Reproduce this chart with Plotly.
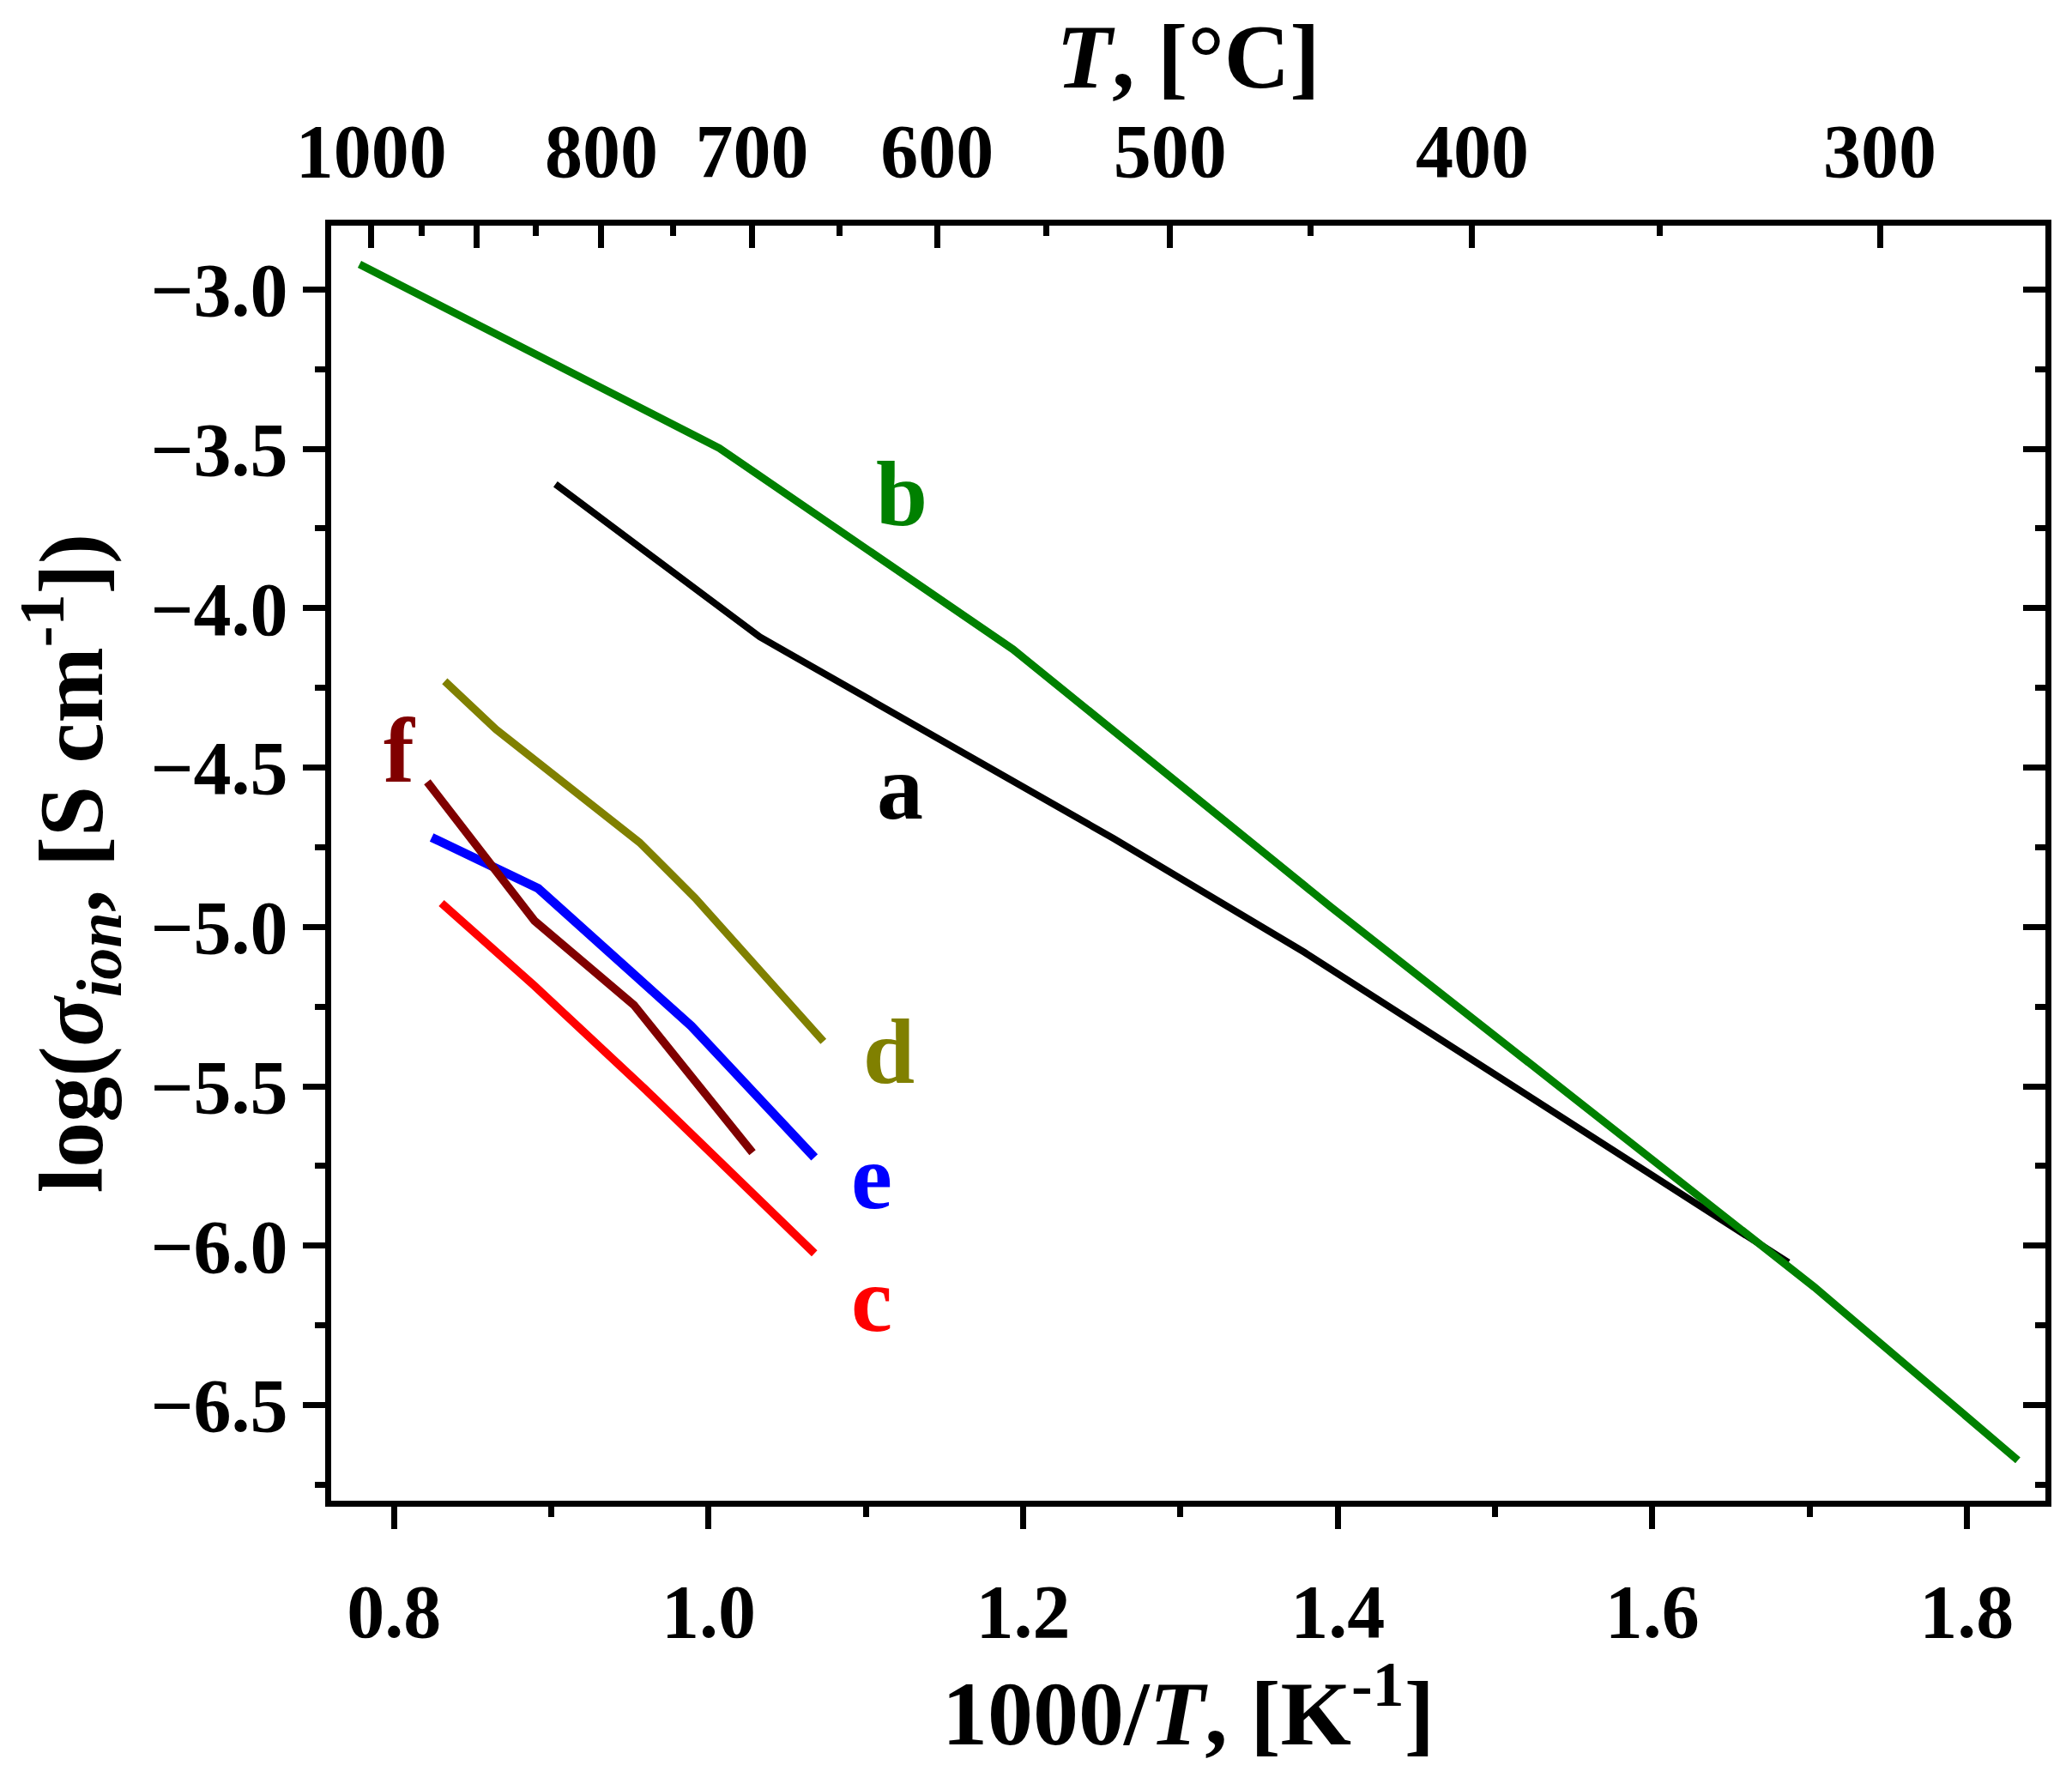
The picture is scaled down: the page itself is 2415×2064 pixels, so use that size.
"""log(sigma_ion) vs 1000/T — Arrhenius plot, curves a-f."""

import plotly.graph_objects as go

# --- data (x = 1000/T in K^-1, y = log sigma) ---
a_x = [0.9026, 1.0325, 1.2573, 1.3790, 1.6866]
a_y = [-3.611, -4.090, -4.722, -5.080, -6.053]

b_x = [0.778, 1.0068, 1.1935, 1.3956, 1.7031, 1.8325]
b_y = [-2.921, -3.498, -4.129, -4.937, -6.130, -6.673]

c_x = [0.8301, 0.8893, 0.9598, 1.0673]
c_y = [-4.925, -5.185, -5.510, -6.024]

d_x = [0.8322, 0.8648, 0.9561, 0.9914, 1.0730]
d_y = [-4.229, -4.380, -4.735, -4.909, -5.359]

e_x = [0.8239, 0.8916, 0.9525, 0.9890, 1.0673]
e_y = [-4.719, -4.879, -5.149, -5.311, -5.723]

f_x = [0.8211, 0.8893, 0.9525, 1.0279]
f_y = [-4.545, -4.981, -5.245, -5.708]

# top axis: temperature in deg C
top_temps = [1000, 900, 800, 700, 600, 500, 400, 300]
top_labels = ["1000", "", "800", "700", "600", "500", "400", "300"]
top_minor_temps = [950, 850, 750, 650, 550, 450, 350]

FONT = "Liberation Serif"


def inv_t(t_c):
    return 1000.0 / (t_c + 273.15)


# name, x, y, colour, line width
series = [
    ("a", a_x, a_y, "#000000", 8),
    ("b", b_x, b_y, "#008000", 9),
    ("c", c_x, c_y, "#FF0000", 9.5),
    ("d", d_x, d_y, "#808000", 9),
    ("e", e_x, e_y, "#0000FF", 10.5),
    ("f", f_x, f_y, "#800000", 9.5),
]

# where the curve letters sit (data coords)
label_pos = {
    "a": (1.1216, -4.563),
    "b": (1.1230, -3.640),
    "c": (1.1036, -6.170),
    "d": (1.1145, -5.392),
    "e": (1.1039, -5.785),
    "f": (0.8036, -4.445),
}

fig = go.Figure()
for name, xs, ys, col, lw in series:
    fig.add_trace(go.Scatter(x=xs, y=ys, mode="lines", name=name,
                             line=dict(color=col, width=lw), showlegend=False))
    lx, ly = label_pos[name]
    fig.add_annotation(x=lx, y=ly, text=name, showarrow=False,
                       font=dict(family=FONT, size=108, color=col, weight="bold"),
                       xanchor="center", yanchor="middle")

# invisible traces so the top (°C) and right frame axes get drawn
fig.add_trace(go.Scatter(x=b_x, y=b_y, xaxis="x2", yaxis="y", mode="lines",
                         line=dict(width=0), opacity=0, hoverinfo="skip", showlegend=False))
fig.add_trace(go.Scatter(x=b_x, y=b_y, xaxis="x", yaxis="y2", mode="lines",
                         line=dict(width=0), opacity=0, hoverinfo="skip", showlegend=False))

x_range = [0.76, 1.85]
y_range = [-6.8, -2.8]
tick_font = dict(family=FONT, size=88, color="black", weight="bold")
title_font = dict(family=FONT, size=106, color="black", weight="bold")
axis_common = dict(showline=True, linewidth=7, linecolor="black", showgrid=False,
                   zeroline=False, ticklen=26, tickwidth=6.5, tickcolor="black",
                   tickfont=tick_font, automargin=False)
minor_common = dict(ticklen=12, tickwidth=6.5, tickcolor="black", showgrid=False)

# page body has an 8px margin -> figure is drawn from (8, 8)
fig.update_layout(
    width=2399, height=2048,
    margin=dict(l=378, r=22.5, t=255, b=307, pad=0),
    plot_bgcolor="white", paper_bgcolor="white",
    font=dict(family=FONT, color="black", weight="bold"),
    xaxis=dict(range=x_range, tick0=0.8, dtick=0.2, tickformat=".1f", ticks="outside",
               title=dict(text="1000/<i>T</i>, [K<sup>-1</sup>]", font=title_font, standoff=30),
               minor=dict(dtick=0.1, tick0=0.8, ticks="outside", **minor_common),
               ticklabelstandoff=20, **axis_common),
    yaxis=dict(range=y_range, tick0=-3.0, dtick=0.5, tickformat=".1f", ticks="outside",
               title=dict(text="log(<i>σ</i><sub><i>ion</i></sub>, [S cm<sup>-1</sup>])",
                          font=title_font, standoff=28),
               minor=dict(dtick=0.25, tick0=-3.0, ticks="outside", **minor_common),
               ticklabelstandoff=0, **axis_common),
    xaxis2=dict(range=x_range, overlaying="x", anchor="y", side="top", ticks="inside",
                tickmode="array", tickvals=[inv_t(t) for t in top_temps], ticktext=top_labels,
                title=dict(text="<i>T</i>, [°C]", font=title_font, standoff=17),
                minor=dict(tickmode="array", tickvals=[inv_t(t) for t in top_minor_temps],
                           ticks="inside", **minor_common),
                ticklabelstandoff=15, **axis_common),
    yaxis2=dict(range=y_range, overlaying="y", anchor="x", side="right", ticks="inside",
                tick0=-3.0, dtick=0.5, showticklabels=False,
                minor=dict(dtick=0.25, tick0=-3.0, ticks="inside", **minor_common),
                **axis_common),
)

fig.write_html("out.html")
